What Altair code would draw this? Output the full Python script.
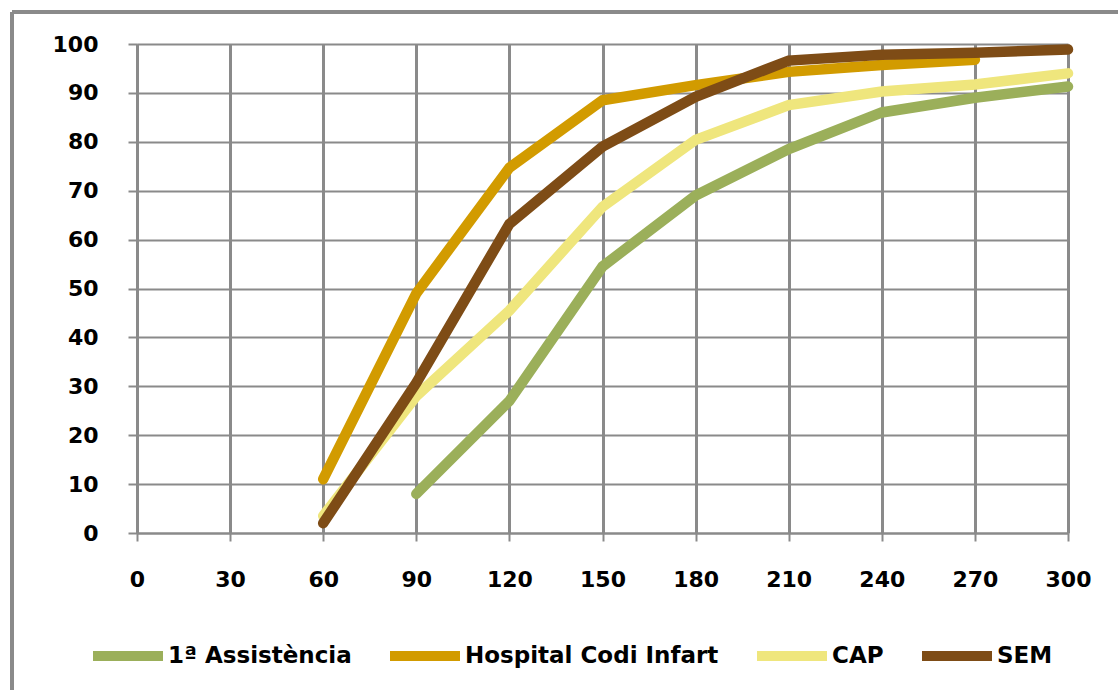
import altair as alt
import pandas as pd

minutes = [0, 30, 60, 90, 120, 150, 180, 210, 240, 270, 300]
series_names = ["1ª Assistència", "Hospital Codi Infart", "CAP", "SEM"]
asistencia = [None, None, None, 8, 27, 54.5, 69, 78.5, 86, 89, 91.3]
hospital = [None, None, 11, 49, 74.7, 88.5, 91.6, 94.3, 95.7, 96.8, None]
cap = [None, None, 3.5, 28, 45.5, 66.7, 80.4, 87.5, 90.3, 91.7, 94]
sem = [None, None, 2, 30.7, 63.2, 79, 89.2, 96.6, 97.8, 98.2, 98.9]
colors = ["#9BAF5A", "#D29B00", "#EFE67D", "#7E4C16"]

rows = []
for name, vals in zip(series_names, [asistencia, hospital, cap, sem]):
    for m, v in zip(minutes, vals):
        if v is not None:
            rows.append({"minuts": m, "pct": v, "serie": name})
df = pd.DataFrame(rows)

FONT_AX = "DejaVu Sans"
GRID = "#8a8a8a"

lines = alt.Chart(df).mark_line(strokeWidth=10.5, strokeCap="round").encode(
    x=alt.X("minuts:Q",
            scale=alt.Scale(domain=[0, 300], nice=False, zero=False),
            axis=alt.Axis(values=minutes, title=None, grid=True, gridColor=GRID,
                          gridWidth=3, domainColor=GRID, domainWidth=2,
                          tickColor=GRID, tickWidth=2, tickSize=8,
                          labelFlush=False, labelOverlap=False,
                          labelPadding=28, labelFont=FONT_AX, labelFontSize=22,
                          labelFontWeight="bold", labelColor="#000000")),
    y=alt.Y("pct:Q",
            scale=alt.Scale(domain=[0, 100], nice=False),
            axis=alt.Axis(values=list(range(0, 101, 10)), title=None, grid=True,
                          gridColor=GRID, gridWidth=2, domainColor=GRID,
                          domainWidth=3, tickColor=GRID, tickWidth=2, tickSize=9,
                          labelFlush=False, labelOverlap=False,
                          labelPadding=30, labelFont=FONT_AX, labelFontSize=22,
                          labelFontWeight="bold", labelColor="#000000")),
    color=alt.Color("serie:N",
                    scale=alt.Scale(domain=series_names, range=colors),
                    sort=series_names,
                    legend=alt.Legend(title=None, orient="none", direction="horizontal",
                                      legendX=-49, legendY=572, padding=0,
                                      symbolType="stroke", symbolSize=4900,
                                      symbolStrokeWidth=10, labelOffset=0,
                                      columnPadding=18, labelFont=FONT_AX,
                                      labelFontSize=23, labelFontWeight="bold",
                                      labelColor="#000000", labelLimit=400)),
    detail="serie:N",
)

left_border = alt.Chart(df).mark_rule(color="#8a8a8a", strokeWidth=3).encode(
    x=alt.value(-125), y=alt.value(-32), y2=alt.value(700))
top_border = alt.Chart(df).mark_rule(color="#8a8a8a", strokeWidth=3).encode(
    x=alt.value(-125), x2=alt.value(1000), y=alt.value(-32))

chart = alt.layer(left_border, top_border, lines).properties(
    width=931, height=489,
    autosize=alt.AutoSizeParams(type="none"),
    padding={"left": 137, "top": 44, "right": 50, "bottom": 157},
    background="white",
).configure_view(strokeWidth=0)

chart.save("out.html", embed_options={"renderer": "svg", "actions": False})
